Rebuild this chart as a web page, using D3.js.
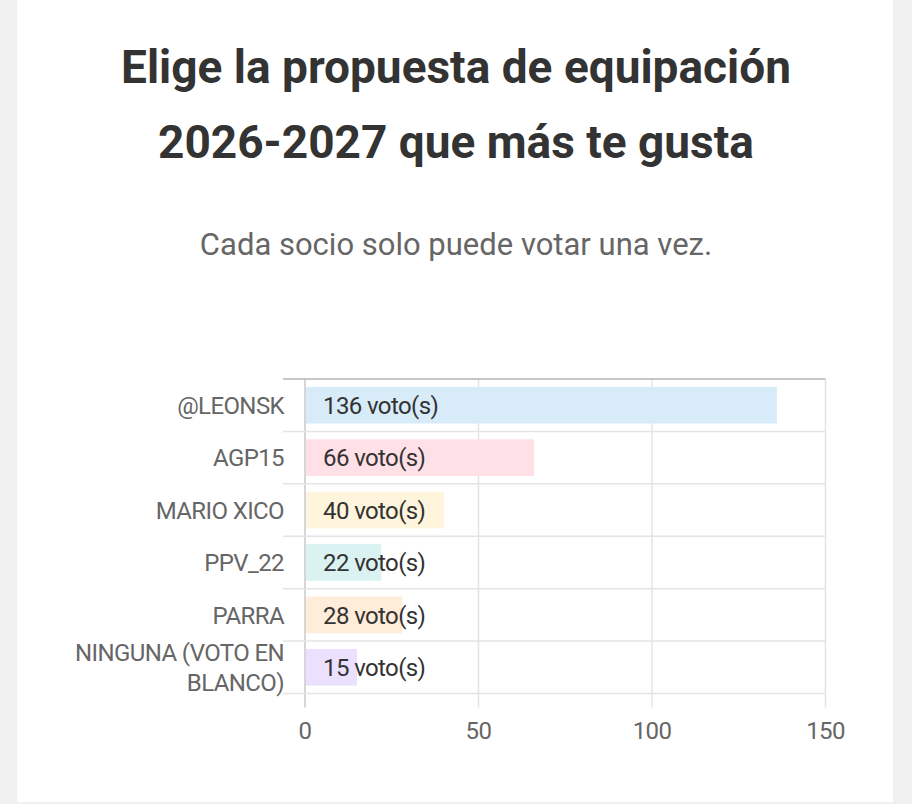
<!DOCTYPE html>
<html>
<head>
<meta charset="utf-8">
<script src="https://cdn.jsdelivr.net/npm/d3@7"></script>
<style>
  html, body { margin: 0; padding: 0; background: #f0f0f0; }
  svg { display: block; font-family: Roboto, "Noto Sans", sans-serif; }
</style>
</head>
<body>
<div class="canvas"></div>
<script>
// Data
const categories = ['@LEONSK', 'AGP15', 'MARIO XICO', 'PPV_22', 'PARRA', 'NINGUNA (VOTO EN BLANCO)'];
const votes = [136, 66, 40, 22, 28, 15];
const barColors = ['#d7ebf9', '#ffe0e6', '#fff4dc', '#dbf2f2', '#ffecd9', '#ebe1ff'];
const xTicks = [0, 50, 100, 150];
const titleLines = ['Elige la propuesta de equipación', '2026-2027 que más te gusta'];
const subtitle = 'Cada socio solo puede votar una vez.';

// Dimensions
const dims = { width: 912, height: 804 };
const plot = { left: 305, right: 825.5, top: 379, bottom: 693.5 };

const svg = d3.select('.canvas')
    .append('svg')
    .attr('width', dims.width)
    .attr('height', dims.height);

// Card
svg.append('rect')
    .attr('x', 17).attr('y', 0)
    .attr('width', 876).attr('height', 802)
    .attr('fill', '#fff');

// Title
svg.append('g')
    .selectAll('text')
    .data(titleLines)
    .enter()
    .append('text')
        .attr('x', 456)
        .attr('y', (d, i) => 83 + i * 75)
        .attr('text-anchor', 'middle')
        .attr('font-size', 46)
        .attr('font-weight', 700)
        .attr('fill', '#333')
        .text(d => d);

svg.append('text')
    .attr('x', 456)
    .attr('y', 255)
    .attr('text-anchor', 'middle')
    .attr('font-size', 31)
    .attr('fill', '#666')
    .text(subtitle);

// Scales
const x = d3.scaleLinear()
    .domain([0, 150])
    .range([plot.left, plot.right]);

const y = d3.scaleBand()
    .domain(categories)
    .range([plot.top, plot.bottom]);

const rows = categories.map((c, i) => ({ name: c, value: votes[i], color: barColors[i] }));

// Grid: vertical
const grid = svg.append('g');
grid.selectAll('line.v')
    .data(xTicks)
    .enter()
    .append('line')
        .attr('class', 'v')
        .attr('x1', d => x(d)).attr('x2', d => x(d))
        .attr('y1', plot.top).attr('y2', plot.bottom + 14)
        .attr('stroke', d => d === 0 ? '#c8c8c8' : '#e4e4e4')
        .attr('stroke-width', 1.5);

// Grid: horizontal band separators
const bounds = categories.map(c => y(c)).concat([plot.bottom]);
grid.selectAll('line.h')
    .data(bounds)
    .enter()
    .append('line')
        .attr('class', 'h')
        .attr('x1', plot.left - 22)
        .attr('x2', plot.right)
        .attr('y1', d => d).attr('y2', d => d)
        .attr('stroke', (d, i) => i === 0 ? '#b4b4b4' : '#e4e4e4')
        .attr('stroke-width', 1.5);

// Bars
const barH = y.bandwidth() * 0.7;
svg.append('g')
    .selectAll('rect')
    .data(rows)
    .enter()
    .append('rect')
        .attr('x', x(0) + 1)
        .attr('y', d => y(d.name) + (y.bandwidth() - barH) / 2)
        .attr('width', d => x(d.value) - x(0) - 1)
        .attr('height', barH)
        .attr('fill', d => d.color);

// Bar labels
svg.append('g')
    .selectAll('text')
    .data(rows)
    .enter()
    .append('text')
        .attr('x', x(0) + 18)
        .attr('y', d => y(d.name) + y.bandwidth() / 2)
        .attr('dy', '0.36em')
        .attr('font-size', 24)
        .attr('letter-spacing', -0.6)
        .attr('fill', '#333')
        .text(d => d.value + ' voto(s)');

// Category labels (wrapped)
const wrap = name => name.length > 16 ? ['NINGUNA (VOTO EN', 'BLANCO)'] : [name];
const catG = svg.append('g')
    .selectAll('text')
    .data(rows)
    .enter()
    .append('text')
        .attr('text-anchor', 'end')
        .attr('font-size', 24)
        .attr('letter-spacing', -0.6)
        .attr('fill', '#666');

catG.each(function(d) {
    const lines = wrap(d.name);
    const cy = y(d.name) + y.bandwidth() / 2;
    d3.select(this).selectAll('tspan')
        .data(lines)
        .enter()
        .append('tspan')
            .attr('x', plot.left - 21)
            .attr('y', (l, i) => cy + (i - (lines.length - 1) / 2) * 30)
            .attr('dy', '0.36em')
            .text(l => l);
});

// X tick labels
svg.append('g')
    .selectAll('text')
    .data(xTicks)
    .enter()
    .append('text')
        .attr('x', d => x(d))
        .attr('y', 739)
        .attr('text-anchor', 'middle')
        .attr('font-size', 24)
        .attr('letter-spacing', -0.6)
        .attr('fill', '#666')
        .text(d => d);
</script>
</body>
</html>
